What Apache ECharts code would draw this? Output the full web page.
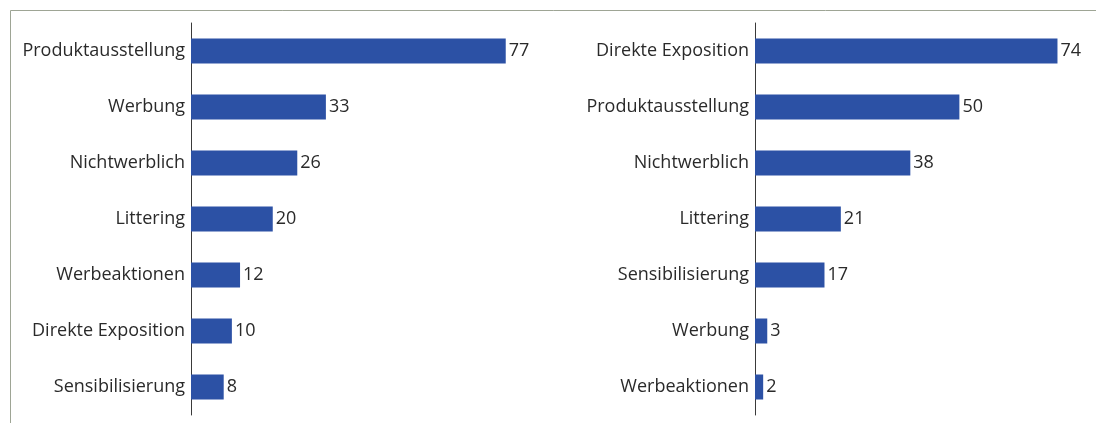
<!DOCTYPE html>
<html>
<head>
<meta charset="utf-8">
<script src="https://cdn.jsdelivr.net/npm/echarts@6/dist/echarts.min.js"></script>
<style>html,body{margin:0;padding:0;background:#fff;}#c{width:1096px;height:423px;}</style>
</head>
<body>
<div id="c"></div>
<script>
const leftCategories = ["Produktausstellung", "Werbung", "Nichtwerblich", "Littering", "Werbeaktionen", "Direkte Exposition", "Sensibilisierung"];
const leftValues = [77, 33, 26, 20, 12, 10, 8];
const rightCategories = ["Direkte Exposition", "Produktausstellung", "Nichtwerblich", "Littering", "Sensibilisierung", "Werbung", "Werbeaktionen"];
const rightValues = [74, 50, 38, 21, 17, 3, 2];

const barColor = "#2c51a5";
const textColor = "#2a2a2a";
const font = "Open Sans";

const chart = echarts.init(document.getElementById('c'), null, {renderer: 'canvas'});

function yAx(idx, cats) {
  return {
    type: 'category', gridIndex: idx, data: cats, inverse: true,
    axisLine: {show: true, lineStyle: {color: '#3a3a3a', width: 1}},
    axisTick: {show: false},
    axisLabel: {color: textColor, fontSize: 18, fontFamily: font, margin: 6}
  };
}
function xAx(idx) {
  return {type: 'value', gridIndex: idx, min: 0, max: 80, show: false};
}
function ser(idx, vals) {
  return {
    type: 'bar', xAxisIndex: idx, yAxisIndex: idx, data: vals,
    barWidth: 25, itemStyle: {color: barColor},
    label: {show: true, position: 'right', distance: 3, color: textColor, fontSize: 18, fontFamily: font},
    silent: true, animation: false
  };
}

chart.setOption({
  animation: false,
  backgroundColor: '#ffffff',
  graphic: [{
    type: 'rect', shape: {x: 10.5, y: 10.5, width: 1200, height: 500},
    style: {fill: 'none', stroke: '#9ea595', lineWidth: 1}, silent: true
  }],
  grid: [
    {left: 191, top: 23, width: 327, height: 392},
    {left: 755, top: 23, width: 327, height: 392}
  ],
  xAxis: [xAx(0), xAx(1)],
  yAxis: [yAx(0, leftCategories), yAx(1, rightCategories)],
  series: [ser(0, leftValues), ser(1, rightValues)]
});
</script>
</body>
</html>
